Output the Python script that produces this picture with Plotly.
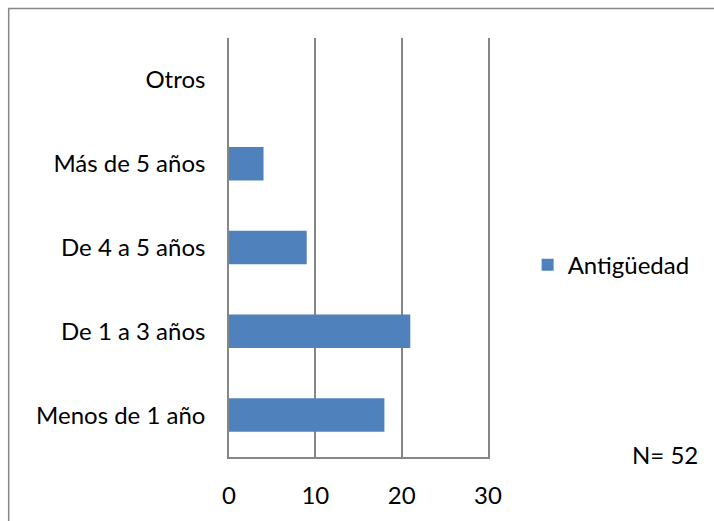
import plotly.graph_objects as go

# Antigüedad de los encuestados (N = 52)
categorias = ["Menos de 1 año", "De 1 a 3 años", "De 4 a 5 años", "Más de 5 años", "Otros"]
valores = [18, 21, 9, 4, 0]
ticks_x = [0, 10, 20, 30]
serie = "Antigüedad"
total = sum(valores)

AZUL = "#4F81BD"
GRIS = "#868686"
FUENTE = "Lato, Carlito, 'Liberation Sans', sans-serif"

fig = go.Figure(
    go.Bar(
        x=valores,
        y=categorias,
        orientation="h",
        name=serie,
        marker=dict(color=AZUL, line=dict(width=0)),
        showlegend=True,
    )
)

fig.update_layout(
    width=714,
    height=521,
    margin=dict(l=229, r=226, t=38, b=64),
    paper_bgcolor="white",
    plot_bgcolor="white",
    bargap=0.6,
    font=dict(family=FUENTE, size=24, color="black"),
    showlegend=True,
    legend=dict(
        x=1.153, y=0.458, xanchor="left", yanchor="middle",
        font=dict(size=24, color="black"),
        bgcolor="rgba(0,0,0,0)",
    ),
    xaxis=dict(
        range=[0, 30],
        tickvals=ticks_x,
        showgrid=True, gridcolor=GRIS, gridwidth=1.5,
        zeroline=False,
        showline=True, linecolor=GRIS, linewidth=1.5,
        ticks="", ticklabelstandoff=16,
        fixedrange=True,
    ),
    yaxis=dict(
        categoryorder="array", categoryarray=categorias,
        showgrid=False, zeroline=False,
        showline=True, mirror=True, linecolor=GRIS, linewidth=1.5,
        ticks="", ticklabelstandoff=17,
        fixedrange=True,
    ),
    shapes=[
        # marco exterior del gráfico
        dict(type="rect", xref="paper", yref="paper",
             x0=-0.8506, x1=1.0 + 240 / 258.4, y0=1.0704, y1=-0.2,
             line=dict(color=GRIS, width=1.5), fillcolor="rgba(0,0,0,0)", layer="below"),
    ],
    annotations=[
        dict(text=f"N= {total}", xref="paper", yref="paper",
             x=1.548, y=0.005, xanchor="left", yanchor="middle",
             showarrow=False, font=dict(size=24, color="black")),
    ],
)

fig.write_html("out.html")
